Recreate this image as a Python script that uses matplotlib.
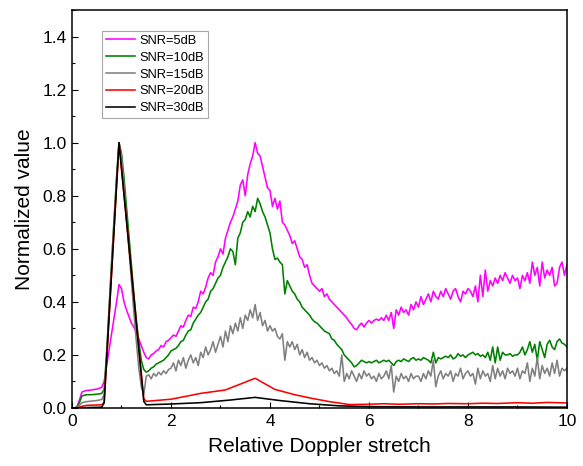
import numpy as np
import matplotlib
matplotlib.use('Agg')
import matplotlib.pyplot as plt
from matplotlib.ticker import MultipleLocator

plt.rcParams['font.family'] = ['Liberation Sans', 'DejaVu Sans']

# shared grid for the noisy curves (step 0.05)
x = np.linspace(0, 10, 201)

snr5 = [0, 0, 0.005, 0.03, 0.06, 0.064, 0.066, 0.067, 0.068, 0.07, 0.071, 0.074, 0.078, 0.10, 0.16, 0.22, 0.28, 0.34, 0.40, 0.465,
        0.45, 0.40, 0.37, 0.345, 0.32, 0.305, 0.285, 0.26, 0.235, 0.21, 0.19, 0.185, 0.20, 0.205, 0.215, 0.22, 0.235, 0.23, 0.25, 0.255,
        0.265, 0.275, 0.27, 0.29, 0.31, 0.305, 0.33, 0.35, 0.345, 0.38, 0.375, 0.40, 0.44, 0.43, 0.455, 0.49, 0.51, 0.50, 0.55, 0.57,
        0.60, 0.58, 0.64, 0.67, 0.70, 0.72, 0.75, 0.78, 0.84, 0.86, 0.80, 0.88, 0.92, 0.95, 1.00, 0.96, 0.95, 0.91, 0.87, 0.83,
        0.82, 0.76, 0.79, 0.75, 0.78, 0.70, 0.69, 0.67, 0.65, 0.62, 0.63, 0.60, 0.57, 0.56, 0.53, 0.54, 0.50, 0.47, 0.46, 0.45,
        0.44, 0.45, 0.42, 0.43, 0.41, 0.40, 0.39, 0.38, 0.37, 0.36, 0.35, 0.34, 0.325, 0.315, 0.30, 0.295, 0.31, 0.32, 0.305, 0.32,
        0.33, 0.32, 0.33, 0.335, 0.33, 0.34, 0.33, 0.35, 0.33, 0.36, 0.30, 0.37, 0.35, 0.38, 0.36, 0.37, 0.35, 0.39, 0.37, 0.40,
        0.38, 0.42, 0.39, 0.41, 0.43, 0.40, 0.44, 0.42, 0.41, 0.44, 0.42, 0.45, 0.43, 0.41, 0.44, 0.45, 0.42, 0.40, 0.44, 0.43,
        0.45, 0.44, 0.42, 0.46, 0.40, 0.50, 0.42, 0.52, 0.44, 0.48, 0.46, 0.49, 0.47, 0.50, 0.48, 0.51, 0.49, 0.47, 0.50, 0.48,
        0.49, 0.45, 0.50, 0.48, 0.51, 0.47, 0.55, 0.50, 0.53, 0.46, 0.55, 0.49, 0.52, 0.50, 0.53, 0.46, 0.47, 0.53, 0.55, 0.50, 0.54]

snr10 = [0, 0, 0.003, 0.02, 0.045, 0.048, 0.05, 0.05, 0.05, 0.051, 0.052, 0.053, 0.055, 0.07, 0.21, 0.38, 0.55, 0.71, 0.87, 1.0,
         0.96, 0.87, 0.76, 0.65, 0.54, 0.43, 0.33, 0.25, 0.18, 0.145, 0.135, 0.14, 0.15, 0.155, 0.165, 0.17, 0.175, 0.18, 0.19, 0.20,
         0.215, 0.22, 0.225, 0.235, 0.25, 0.255, 0.275, 0.29, 0.295, 0.32, 0.335, 0.35, 0.36, 0.38, 0.40, 0.41, 0.44, 0.45, 0.47, 0.49,
         0.50, 0.53, 0.55, 0.57, 0.60, 0.59, 0.54, 0.64, 0.66, 0.70, 0.71, 0.74, 0.72, 0.76, 0.74, 0.79, 0.77, 0.74, 0.72, 0.69,
         0.66, 0.60, 0.56, 0.565, 0.55, 0.54, 0.43, 0.48, 0.46, 0.44, 0.43, 0.41, 0.40, 0.38, 0.37, 0.36, 0.35, 0.335, 0.325, 0.32,
         0.31, 0.30, 0.29, 0.285, 0.28, 0.26, 0.255, 0.24, 0.23, 0.22, 0.20, 0.19, 0.18, 0.17, 0.155, 0.16, 0.17, 0.18, 0.175, 0.17,
         0.175, 0.17, 0.175, 0.18, 0.17, 0.175, 0.18, 0.175, 0.18, 0.17, 0.16, 0.175, 0.18, 0.175, 0.185, 0.18, 0.175, 0.185, 0.19, 0.18,
         0.185, 0.18, 0.19, 0.185, 0.18, 0.17, 0.21, 0.17, 0.19, 0.185, 0.19, 0.195, 0.19, 0.20, 0.185, 0.19, 0.205, 0.195, 0.20, 0.19,
         0.20, 0.205, 0.21, 0.20, 0.205, 0.195, 0.20, 0.19, 0.21, 0.18, 0.23, 0.17, 0.23, 0.18, 0.21, 0.20, 0.20, 0.205, 0.195, 0.20,
         0.20, 0.21, 0.23, 0.20, 0.22, 0.25, 0.21, 0.24, 0.18, 0.25, 0.22, 0.19, 0.24, 0.255, 0.23, 0.22, 0.25, 0.26, 0.245, 0.24, 0.23]

snr15 = [0, 0, 0.002, 0.01, 0.02, 0.022, 0.024, 0.025, 0.026, 0.027, 0.028, 0.03, 0.032, 0.05, 0.20, 0.37, 0.54, 0.70, 0.86, 1.0,
         0.95, 0.84, 0.72, 0.60, 0.48, 0.36, 0.25, 0.15, 0.08, 0.05, 0.12, 0.125, 0.11, 0.13, 0.12, 0.135, 0.125, 0.14, 0.13, 0.145,
         0.15, 0.17, 0.14, 0.18, 0.16, 0.19, 0.15, 0.18, 0.20, 0.17, 0.19, 0.16, 0.21, 0.19, 0.23, 0.20, 0.22, 0.25, 0.21, 0.24,
         0.27, 0.23, 0.29, 0.25, 0.31, 0.28, 0.32, 0.29, 0.34, 0.30, 0.35, 0.33, 0.37, 0.34, 0.39, 0.33, 0.36, 0.31, 0.33, 0.29,
         0.31, 0.29, 0.30, 0.27, 0.26, 0.28, 0.18, 0.25, 0.23, 0.25, 0.22, 0.24, 0.20, 0.22, 0.19, 0.21, 0.18, 0.19, 0.17, 0.18,
         0.16, 0.17, 0.15, 0.16, 0.14, 0.15, 0.13, 0.14, 0.12, 0.20, 0.10, 0.13, 0.11, 0.14, 0.12, 0.10, 0.13, 0.11, 0.14, 0.12,
         0.13, 0.11, 0.12, 0.10, 0.13, 0.11, 0.12, 0.14, 0.11, 0.16, 0.06, 0.12, 0.10, 0.13, 0.11, 0.12, 0.10, 0.13, 0.11, 0.12,
         0.12, 0.10, 0.13, 0.11, 0.14, 0.12, 0.18, 0.08, 0.12, 0.14, 0.11, 0.13, 0.12, 0.14, 0.10, 0.13, 0.12, 0.15, 0.11, 0.13,
         0.14, 0.12, 0.13, 0.09, 0.15, 0.11, 0.14, 0.12, 0.13, 0.10, 0.16, 0.11, 0.15, 0.12, 0.14, 0.11, 0.15, 0.13, 0.14, 0.12,
         0.15, 0.11, 0.14, 0.13, 0.17, 0.10, 0.15, 0.12, 0.19, 0.11, 0.16, 0.13, 0.15, 0.12, 0.17, 0.13, 0.18, 0.12, 0.15, 0.14, 0.15]

# smooth curves, read at a few points
snr20_x = [0.0, 0.1, 0.2, 0.3, 0.6, 0.65, 0.95, 1.45, 1.5, 2.0, 2.6, 3.1, 3.7, 4.1, 4.5, 4.8, 5.2, 5.6,
           6.0, 6.3, 6.6, 7.0, 7.3, 7.6, 8.0, 8.3, 8.6, 9.0, 9.3, 9.6, 10.0]
snr20 = [0.0, 0.0, 0.006, 0.01, 0.012, 0.02, 1.0, 0.035, 0.025, 0.033, 0.055, 0.068, 0.112, 0.07, 0.05, 0.038, 0.024, 0.013,
         0.014, 0.016, 0.014, 0.016, 0.015, 0.017, 0.016, 0.018, 0.017, 0.02, 0.018, 0.021, 0.019]

snr30_x = [0.0, 0.6, 0.65, 0.95, 1.45, 1.5, 2.0, 2.6, 3.2, 3.7, 4.2, 4.8, 5.4, 6.0, 7.0, 8.0, 9.0, 10.0]
snr30 = [0.0, 0.003, 0.02, 1.0, 0.025, 0.012, 0.015, 0.02, 0.03, 0.04, 0.028, 0.016, 0.008, 0.005, 0.004, 0.004, 0.004, 0.003]

labels = ['SNR=5dB', 'SNR=10dB', 'SNR=15dB', 'SNR=20dB', 'SNR=30dB']
colors = ['#FF00FF', '#008000', '#808080', '#FF0000', '#000000']

fig = plt.figure(figsize=(5.83, 4.66), dpi=100)
ax = fig.add_axes([0.1235, 0.1245, 0.849, 0.854])

lw = 1.15
ax.plot(x, snr5, color=colors[0], lw=lw, label=labels[0])
ax.plot(x, snr10, color=colors[1], lw=lw, label=labels[1])
ax.plot(x, snr15, color=colors[2], lw=lw, label=labels[2])
ax.plot(snr20_x, snr20, color=colors[3], lw=lw, label=labels[3])
ax.plot(snr30_x, snr30, color=colors[4], lw=lw, label=labels[4])

ax.set_xlim(0, 10)
ax.set_ylim(0, 1.5)
ax.xaxis.set_major_locator(MultipleLocator(2))
ax.xaxis.set_minor_locator(MultipleLocator(1))
ax.yaxis.set_minor_locator(MultipleLocator(0.1))
ax.set_yticks(np.arange(0, 1.41, 0.2))
ax.set_yticklabels(['%.1f' % v for v in np.arange(0, 1.41, 0.2)])
ax.tick_params(which='major', direction='in', length=4.5, width=0.8, labelsize=12.5, pad=4)
ax.tick_params(which='minor', direction='in', length=2.5, width=0.8)
for s in ax.spines.values():
    s.set_linewidth(1.1)

ax.set_xlabel('Relative Doppler stretch', fontsize=15, labelpad=6)
ax.set_ylabel('Normalized value', fontsize=15, labelpad=6)

leg = ax.legend(loc='upper left', bbox_to_anchor=(0.06, 0.948), borderaxespad=0,
                fontsize=9.3, frameon=True, fancybox=False, edgecolor='#909090',
                handlelength=2.3, handletextpad=0.35, labelspacing=0.38, borderpad=0.3)
leg.get_frame().set_linewidth(0.8)

fig.savefig('out.png', dpi=100)
